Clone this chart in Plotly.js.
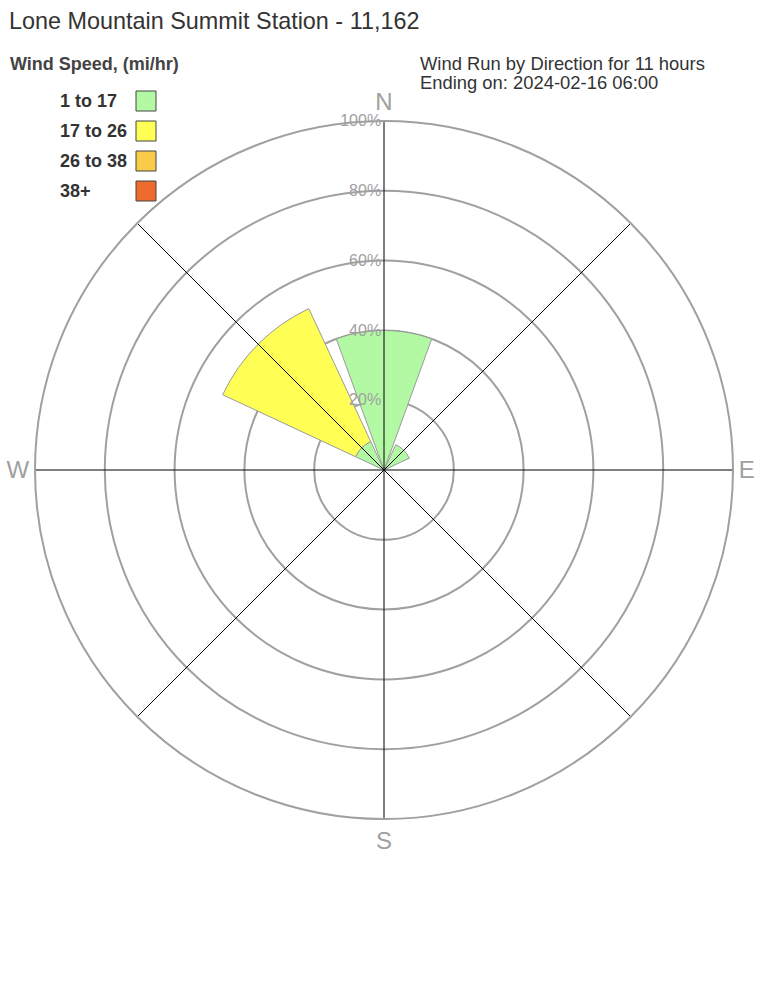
<!DOCTYPE html>
<html><head><meta charset="utf-8">
<script src="https://cdn.plot.ly/plotly-3.0.1.min.js"></script>
<style>html,body{margin:0;padding:0;background:#fff}#chart{width:768px;height:1008px}</style>
</head><body><div id="chart"></div>
<script>
// ---- data ----
const directions = [0, 45, 90, 135, 180, 225, 270, 315];
const speedBins = ['1 to 17', '17 to 26', '26 to 38', '38+'];
const binColors = ['#b3f9a3', '#ffff55', '#f8cc47', '#ed6b2d'];
const pct_1_17  = [40, 8, 0, 0, 0, 0, 0, 9];
const pct_17_26 = [0, 0, 0, 0, 0, 0, 0, 42];
const pct_26_38 = [0, 0, 0, 0, 0, 0, 0, 0];
const pct_38p   = [0, 0, 0, 0, 0, 0, 0, 0];
const radialTicks = [20, 40, 60, 80, 100];
const compassVals = [0, 90, 180, 270];
const compassText = ['N', 'E', 'S', 'W'];
const titleText = 'Lone Mountain Summit Station - 11,162';
const legendTitle = 'Wind Speed, (mi/hr)';
const infoLines = ['Wind Run by Direction for 11 hours', 'Ending on: 2024-02-16 06:00'];

// ---- build ----
const W = 768, H = 1008;
const px = x => x / W, py = y => 1 - y / H;
const FONT = 'Liberation Sans, Arial, sans-serif';
const series = [pct_1_17, pct_17_26, pct_26_38, pct_38p];
const rMax = radialTicks[radialTicks.length - 1];

const traces = series.map((vals, i) => ({
  type: 'barpolar',
  name: speedBins[i],
  theta: directions,
  r: vals,
  width: directions.map(() => 40),
  marker: {color: binColors[i], line: {color: '#9a9a9a', width: 1}},
  showlegend: false
}));

// compass spokes over the bars
const spokeTheta = [], spokeR = [];
directions.forEach(d => { spokeTheta.push(d, d, null); spokeR.push(0, rMax, null); });
traces.push({
  type: 'scatterpolar', mode: 'lines', theta: spokeTheta, r: spokeR,
  line: {color: '#000', width: 1}, hoverinfo: 'skip', showlegend: false, connectgaps: false
});

const annotations = [];
const shapes = [];
annotations.push({xref: 'paper', yref: 'paper', x: px(8), y: py(64), xanchor: 'left', yanchor: 'middle',
  text: '<b>' + legendTitle + '</b>', showarrow: false, font: {family: FONT, size: 18, color: '#444'}});
speedBins.forEach((lab, i) => {
  const cy = 101 + i * 30;
  annotations.push({xref: 'paper', yref: 'paper', x: px(58), y: py(cy), xanchor: 'left', yanchor: 'middle',
    text: '<b>' + lab + '</b>', showarrow: false, font: {family: FONT, size: 18, color: '#333'}});
  shapes.push({type: 'rect', xref: 'paper', yref: 'paper', x0: px(136), x1: px(156), y0: py(cy - 10), y1: py(cy + 10),
    fillcolor: binColors[i], line: {color: '#444', width: 1}});
});
infoLines.forEach((t, i) => {
  annotations.push({xref: 'paper', yref: 'paper', x: px(418), y: py(63 + i * 19), xanchor: 'left', yanchor: 'middle',
    text: t, showarrow: false, font: {family: FONT, size: 18.4, color: '#333'}});
});

const layout = {
  width: W, height: H,
  margin: {l: 0, r: 0, t: 0, b: 0},
  paper_bgcolor: '#fff',
  font: {family: FONT},
  showlegend: false,
  title: {text: titleText, x: px(9), xanchor: 'left', xref: 'paper', y: py(21), yref: 'container', yanchor: 'middle',
    font: {family: FONT, size: 23.4, color: '#333'}},
  polar: {
    domain: {x: [px(35), px(733)], y: [py(819), py(121)]},
    bgcolor: 'rgba(0,0,0,0)',
    barmode: 'stack',
    radialaxis: {
      range: [0, rMax], tickvals: radialTicks, ticktext: radialTicks.map(v => v + '%'),
      angle: 90, tickangle: 90, showline: false, ticks: '', side: 'counterclockwise',
      gridcolor: '#a0a0a0', gridwidth: 2, layer: 'above traces',
      tickfont: {family: FONT, size: 16, color: '#a0a0a0'}
    },
    angularaxis: {
      rotation: 90, direction: 'clockwise', thetaunit: 'degrees',
      tickvals: compassVals, ticktext: compassText, ticks: '',
      showgrid: false, showline: true, linecolor: '#a0a0a0', linewidth: 2,
      tickfont: {family: FONT, size: 24, color: '#a0a0a0'}
    }
  },
  annotations, shapes
};

Plotly.newPlot('chart', traces, layout, {displayModeBar: false, staticPlot: true});
</script>
</body></html>
